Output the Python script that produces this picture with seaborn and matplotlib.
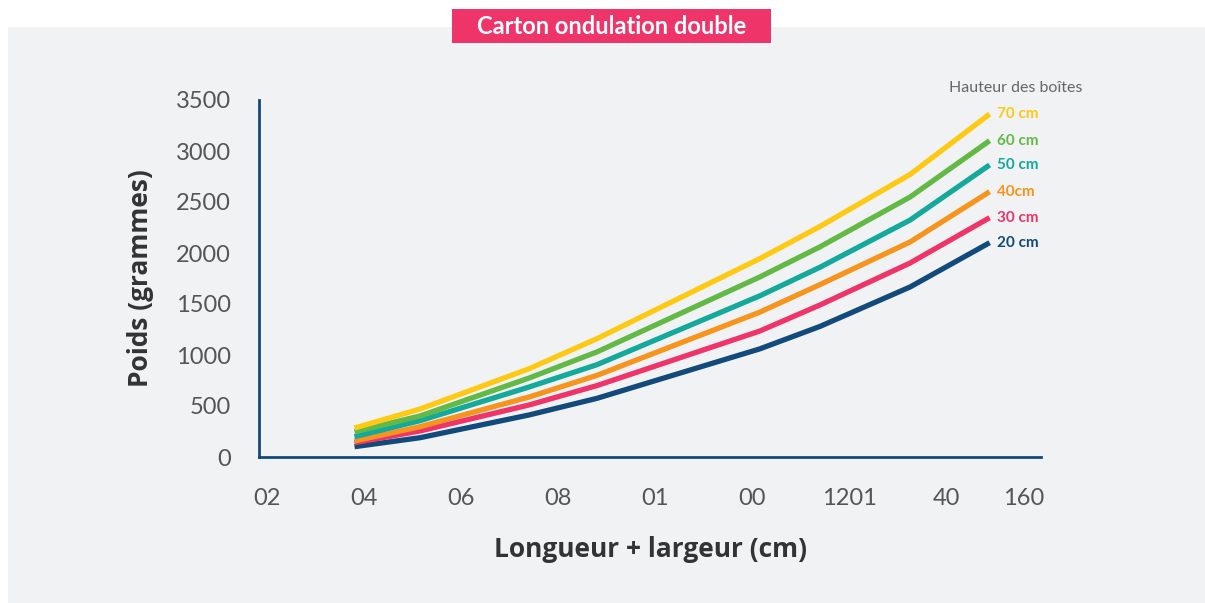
import pandas as pd
import matplotlib.pyplot as plt
import seaborn as sns
from matplotlib.patches import Rectangle

# --- data ---
x_cm = [38, 51.5, 74, 88, 121.6, 134, 152.6, 169]
h20 = [101, 189, 412, 575, 1060, 1280, 1667, 2101]
h30 = [140, 255, 510, 700, 1235, 1490, 1902, 2346]
h40 = [157, 297, 588, 800, 1420, 1690, 2108, 2601]
h50 = [199, 356, 686, 905, 1580, 1860, 2323, 2863]
h60 = [248, 402, 774, 1030, 1765, 2060, 2549, 3101]
h70 = [284, 470, 865, 1160, 1945, 2260, 2770, 3362]

series_labels = ["20 cm", "30 cm", "40cm", "50 cm", "60 cm", "70 cm"]
series_colors = ["#124a7c", "#ee3468", "#f7941d", "#14a99a", "#63b946", "#fdc913"]

x_tick_pos = [20, 40, 60, 80, 100, 120, 140, 160, 176]
x_tick_labels = ["02", "04", "06", "08", "01", "00", "1201", "40", "160"]
y_ticks = [0, 500, 1000, 1500, 2000, 2500, 3000, 3500]

title = "Carton ondulation double"
xlabel = "Longueur + largeur (cm)"
ylabel = "Poids (grammes)"
legend_title = "Hauteur des boîtes"

# long-form table for seaborn
frames = []
for lab, vals in zip(series_labels, [h20, h30, h40, h50, h60, h70]):
    frames.append(pd.DataFrame({"x": x_cm, "poids": vals, "hauteur": lab}))
df = pd.concat(frames, ignore_index=True)

sns.set_theme(style="white")
plt.rcParams["font.family"] = ["Lato", "DejaVu Sans"]

fig = plt.figure(figsize=(12.05, 6.03), dpi=100)
fig.patch.set_facecolor("white")

# grey panel behind the chart
fig.patches.append(Rectangle((8 / 1205, 0), 1 - 8 / 1205, 1 - 27 / 603,
                             transform=fig.transFigure, facecolor="#f1f2f4",
                             edgecolor="none", zorder=-2))
# pink title box
fig.patches.append(Rectangle((452 / 1205, 1 - 43 / 603), 319 / 1205, 34 / 603,
                             transform=fig.transFigure, facecolor="#ee3468",
                             edgecolor="none", zorder=-1))
fig.text(611.5 / 1205, 1 - 27 / 603, title, color="white", fontsize=17,
         fontweight="bold", ha="center", va="center")

ax = fig.add_axes([259 / 1205, 1 - 457 / 603, (1041 - 259) / 1205, (457 - 100) / 603])
ax.set_facecolor("none")
ax.set_zorder(2)

sns.lineplot(data=df, x="x", y="poids", hue="hauteur", hue_order=series_labels,
             palette=series_colors, linewidth=3.8, legend=False, ax=ax,
             solid_capstyle="butt", solid_joinstyle="round")

ax.set_xlim(18.3, 179.6)
ax.set_ylim(0, 3500)
ax.set_xticks(x_tick_pos)
ax.set_xticklabels(x_tick_labels)
ax.set_yticks(y_ticks)
ax.tick_params(axis="both", length=0, labelsize=17, colors="#555555")
ax.tick_params(axis="x", pad=22)
ax.tick_params(axis="y", pad=20)

for side in ["top", "right"]:
    ax.spines[side].set_visible(False)
for side in ["left", "bottom"]:
    ax.spines[side].set_color("#124a7c")
    ax.spines[side].set_linewidth(2)

ax.set_xlabel(xlabel, fontsize=19, fontweight="bold", color="#333333", labelpad=20,
              family=["Open Sans", "DejaVu Sans"])
ax.set_ylabel(ylabel, fontsize=19, fontweight="bold", color="#333333", labelpad=16,
              family=["Open Sans", "DejaVu Sans"])

# end-of-line labels
for lab, vals, col in zip(series_labels, [h20, h30, h40, h50, h60, h70], series_colors):
    ax.annotate(lab, xy=(x_cm[-1], vals[-1]), xytext=(5, 0), textcoords="offset points",
                color=col, fontsize=11, fontweight="bold", va="center", ha="left",
                annotation_clip=False)

fig.text(949 / 1205, 1 - 88 / 603, legend_title, color="#666666", fontsize=11.5,
         ha="left", va="center")

fig.savefig("out.png", dpi=100)
